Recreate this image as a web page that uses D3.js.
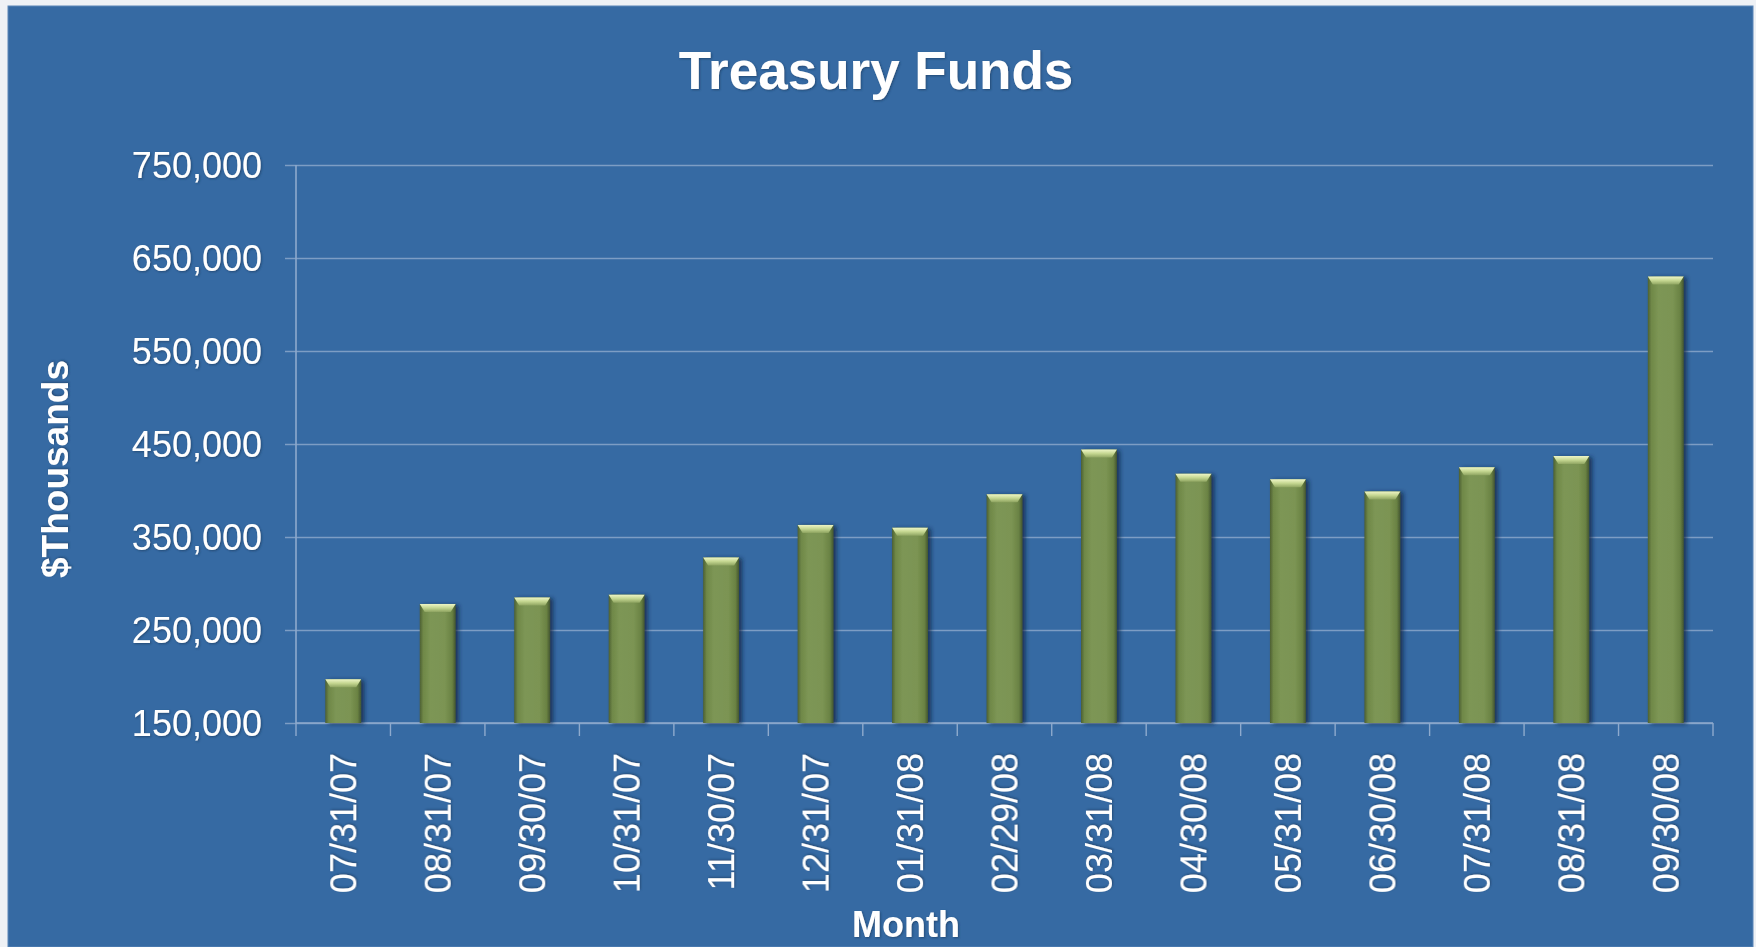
<!DOCTYPE html>
<html>
<head>
<meta charset="utf-8">
<script src="https://cdn.jsdelivr.net/npm/d3@7"></script>
<style>
  html, body { margin: 0; padding: 0; background: #eef1f5; }
  svg { display: block; }
  text { font-family: "Liberation Sans", Arial, sans-serif; fill: #ffffff; }
</style>
</head>
<body>
<svg id="chart" width="1756" height="947"></svg>
<script>
// Month-end balances of the treasury funds, in $ thousands
const months = ["07/31/07", "08/31/07", "09/30/07", "10/31/07", "11/30/07", "12/31/07",
                "01/31/08", "02/29/08", "03/31/08", "04/30/08", "05/31/08", "06/30/08",
                "07/31/08", "08/31/08", "09/30/08"];
const balances = [197000, 278000, 285000, 288000, 328000, 363000,
                  360000, 396000, 444000, 418000, 412000, 399000,
                  425000, 437000, 630000];
const yTicks = [150000, 250000, 350000, 450000, 550000, 650000, 750000];
const yDomain = [150000, 750000];

const svg = d3.select("#chart");
const W = 1756, H = 947;
const margin = { top: 165, right: 43, bottom: 224, left: 296 };
const plotW = W - margin.left - margin.right;
const plotH = H - margin.top - margin.bottom;

// Panel background
svg.append("rect")
  .attr("x", 8).attr("y", 6)
  .attr("width", 1745).attr("height", H - 6)
  .attr("fill", "#366aa3")
  .attr("stroke", "#5a86b8").attr("stroke-width", 1);

const defs = svg.append("defs");
const bodyGrad = defs.append("linearGradient").attr("id", "barBody")
  .attr("x1", "0").attr("x2", "1").attr("y1", "0").attr("y2", "0");
[[0, "#4c5f32"], [0.1, "#6f8848"], [0.3, "#7d9655"], [0.7, "#7b9453"], [0.9, "#6a8243"], [1, "#435530"]]
  .forEach(([o, c]) => bodyGrad.append("stop").attr("offset", o).attr("stop-color", c));
const capGrad = defs.append("linearGradient").attr("id", "barCap")
  .attr("x1", "0").attr("x2", "0").attr("y1", "0").attr("y2", "1");
[[0, "#eef5c6"], [0.5, "#c4d690"], [1, "#8ea461"]]
  .forEach(([o, c]) => capGrad.append("stop").attr("offset", o).attr("stop-color", c));
const shadow = defs.append("filter").attr("id", "barShadow")
  .attr("x", "-30%").attr("y", "-10%").attr("width", "170%").attr("height", "130%");
shadow.append("feDropShadow").attr("dx", 3).attr("dy", 1).attr("stdDeviation", 2)
  .attr("flood-color", "#0e2440").attr("flood-opacity", 0.75);
const textGlow = defs.append("filter").attr("id", "textShadow")
  .attr("x", "-10%").attr("y", "-20%").attr("width", "120%").attr("height", "140%");
textGlow.append("feDropShadow").attr("dx", 1).attr("dy", 1).attr("stdDeviation", 1.2)
  .attr("flood-color", "#1b3a60").attr("flood-opacity", 0.7);

const g = svg.append("g").attr("transform", `translate(${margin.left},${margin.top})`);

const x = d3.scaleBand().domain(months).range([0, plotW])
  .paddingInner(0.62).paddingOuter(0.31);
const y = d3.scaleLinear().domain(yDomain).range([plotH, 0]);

// Horizontal gridlines with outward tick stubs
const yAxis = d3.axisLeft(y).tickValues(yTicks).tickSize(-plotW - 11).tickFormat("");
const yg = g.append("g").call(yAxis);
yg.select(".domain").remove();
yg.selectAll(".tick line")
  .attr("transform", "translate(-11,0)")
  .attr("stroke", "#7d9dc4").attr("stroke-width", 1.6);

// Y tick labels
g.selectAll(".ylab").data(yTicks).join("text")
  .attr("class", "ylab")
  .attr("x", -34).attr("y", d => y(d)).attr("dy", "0.35em")
  .attr("text-anchor", "end")
  .attr("font-size", 36)
  .attr("filter", "url(#textShadow)")
  .text(d3.format(","));

// Y axis line
g.append("line").attr("x1", 0).attr("x2", 0).attr("y1", 0).attr("y2", plotH)
  .attr("stroke", "#8eaacd").attr("stroke-width", 1.6);

// X axis line and category divider ticks
g.append("line").attr("x1", 0).attr("x2", plotW).attr("y1", plotH).attr("y2", plotH)
  .attr("stroke", "#8eaacd").attr("stroke-width", 1.6);
const bounds = d3.range(months.length + 1).map(i => i * x.step());
g.selectAll(".xtick").data(bounds).join("line")
  .attr("class", "xtick")
  .attr("x1", d => d).attr("x2", d => d)
  .attr("y1", plotH).attr("y2", plotH + 13)
  .attr("stroke", "#8eaacd").attr("stroke-width", 1.4);

// Bars
const bars = g.selectAll(".bar").data(months.map((m, i) => ({ m, v: balances[i] })))
  .join("g").attr("class", "bar")
  .attr("filter", "url(#barShadow)");
bars.append("rect")
  .attr("x", d => x(d.m)).attr("y", d => y(d.v))
  .attr("width", x.bandwidth()).attr("height", d => plotH - y(d.v))
  .attr("fill", "url(#barBody)");
bars.append("path")
  .attr("d", d => {
    const x0 = x(d.m), x1 = x0 + x.bandwidth(), t = y(d.v);
    return `M${x0},${t}L${x1},${t}L${x1 - 5},${t + 8}L${x0 + 5},${t + 8}Z`;
  })
  .attr("fill", "url(#barCap)");

// X tick labels (rotated)
g.selectAll(".xlab").data(months).join("text")
  .attr("class", "xlab")
  .attr("transform", d => `translate(${x(d) + x.bandwidth() / 2},${plotH + 30}) rotate(-90)`)
  .attr("dy", "0.35em")
  .attr("text-anchor", "end")
  .attr("font-size", 36)
  .attr("filter", "url(#textShadow)")
  .text(d => d);

// Titles
svg.append("text")
  .attr("x", 876).attr("y", 89)
  .attr("text-anchor", "middle")
  .attr("font-size", 53).attr("font-weight", "bold")
  .attr("filter", "url(#textShadow)")
  .text("Treasury Funds");

svg.append("text")
  .attr("transform", "translate(55,469) rotate(-90)")
  .attr("text-anchor", "middle").attr("dy", "0.35em")
  .attr("font-size", 37).attr("font-weight", "bold")
  .attr("filter", "url(#textShadow)")
  .text("$Thousands");

svg.append("text")
  .attr("x", 906).attr("y", 937)
  .attr("text-anchor", "middle")
  .attr("font-size", 36).attr("font-weight", "bold")
  .attr("filter", "url(#textShadow)")
  .text("Month");
</script>
</body>
</html>
